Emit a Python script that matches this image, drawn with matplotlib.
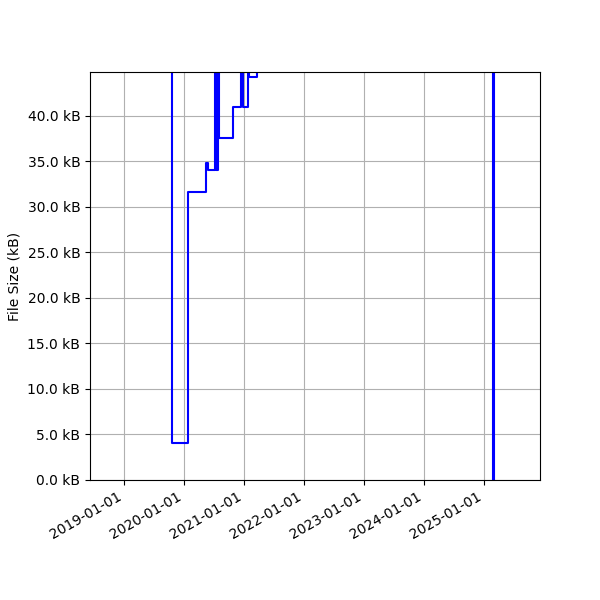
import matplotlib
matplotlib.use("Agg")
import matplotlib.pyplot as plt
import matplotlib.dates as mdates
from matplotlib.ticker import FuncFormatter
import pandas as pd

# file size history (kB); values above the y-limit run off the top of the chart
dates = ["2018-10-10", "2019-10-20", "2020-01-25", "2020-05-14", "2020-05-26",
         "2020-07-05", "2020-07-11", "2020-07-25", "2020-07-31", "2020-10-27",
         "2020-12-11", "2020-12-27", "2021-01-27", "2021-02-02", "2021-03-23",
         "2025-02-21", "2025-03-02", "2025-08-04"]
sizes_kb = [52.0, 4.1, 31.6, 34.8, 34.0,
            50.0, 34.0, 50.0, 37.5, 41.0,
            50.0, 41.0, 50.0, 44.3, 50.0,
            0.0, 50.0, 50.0]
y_max = 44.8

x = pd.to_datetime(dates)

fig, ax = plt.subplots(figsize=(6, 6), dpi=100)
ax.step(x, sizes_kb, where="post", color="b", linewidth=1.5)

ax.set_ylim(0, y_max)
ax.set_ylabel("File Size (kB)")
ax.yaxis.set_major_formatter(FuncFormatter(lambda v, p: f"{v:.1f} kB"))

ax.xaxis.set_major_locator(mdates.YearLocator())
ax.xaxis.set_major_formatter(mdates.DateFormatter("%Y-%m-%d"))
ax.grid(True)

fig.autofmt_xdate()
fig.subplots_adjust(left=0.15, right=0.9, top=0.88, bottom=0.2)
fig.savefig("out.png")
